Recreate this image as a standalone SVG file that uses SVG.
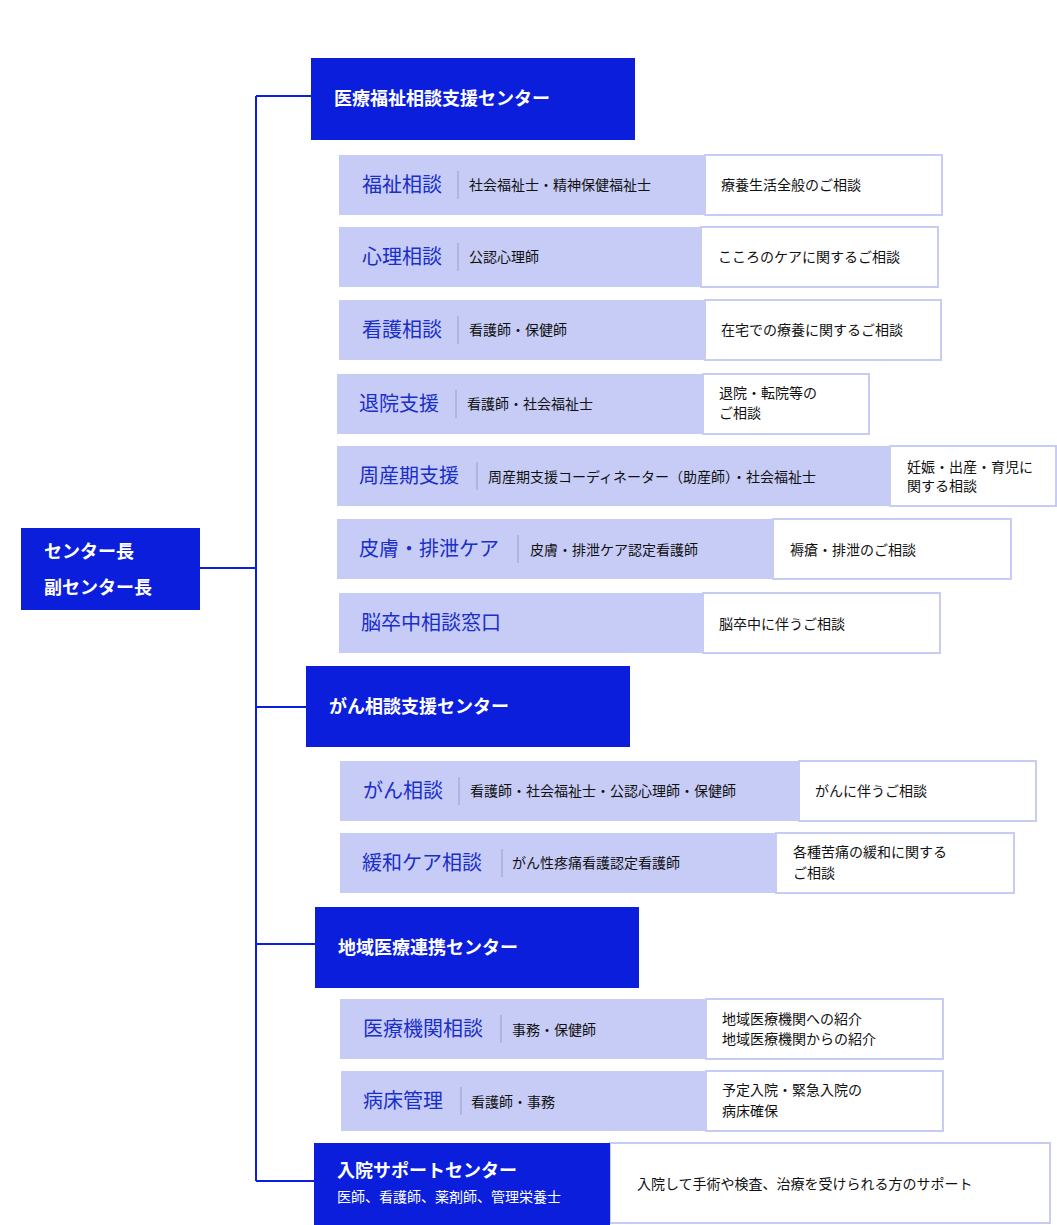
<svg xmlns="http://www.w3.org/2000/svg" width="1057" height="1225" viewBox="0 0 1057 1225">
<style>
text{font-family:"Noto Sans CJK JP","Liberation Sans",sans-serif}
.hd{fill:#0a1edc}
.ht{fill:#fff;font-size:18px;font-weight:bold}
.lt{fill:#c6ccf6}
.wb{fill:#fff;stroke:#c6ccf6;stroke-width:2}
.t{fill:#1a2ec8;font-size:20px}
.s{fill:#111;font-size:14px}
.sep{stroke:#9aa0c0;stroke-width:1}
.ln{stroke:#0a1edc;stroke-width:2;fill:none}
</style>
<rect width="1057" height="1225" fill="#fff"/>
<g id="connectors">
<path class="ln" d="M200 568H256M256 96V1181M256 96H311M256 707H306M256 944H315M256 1181H314"/>
</g>
<g id="chief"><rect class="hd" x="21" y="528" width="179" height="82"/><text class="ht" x="44" y="558">センター長</text><text class="ht" x="44" y="594">副センター長</text></g>
<g id="h1"><rect class="hd" x="311" y="58" width="324" height="82"/><text class="ht" x="334" y="105">医療福祉相談支援センター</text></g>
<g id="r1"><rect class="wb" x="705" y="155" width="237" height="60"/><rect class="lt" x="339" y="155" width="366" height="60"/><text class="t" x="362" y="192">福祉相談</text><line class="sep" x1="458" y1="171" x2="458" y2="199"/><text class="s" x="469" y="190">社会福祉士・精神保健福祉士</text><text class="s" x="721" y="190">療養生活全般のご相談</text></g>
<g id="r2"><rect class="wb" x="701" y="227" width="237" height="60"/><rect class="lt" x="339" y="227" width="362" height="60"/><text class="t" x="362" y="264">心理相談</text><line class="sep" x1="458" y1="243" x2="458" y2="271"/><text class="s" x="469" y="262">公認心理師</text><text class="s" x="718" y="262">こころのケアに関するご相談</text></g>
<g id="r3"><rect class="wb" x="705" y="300" width="236" height="60"/><rect class="lt" x="339" y="300" width="366" height="60"/><text class="t" x="362" y="337">看護相談</text><line class="sep" x1="458" y1="316" x2="458" y2="344"/><text class="s" x="469" y="335">看護師・保健師</text><text class="s" x="721" y="335">在宅での療養に関するご相談</text></g>
<g id="r4"><rect class="wb" x="703" y="374" width="166" height="60"/><rect class="lt" x="337" y="374" width="366" height="60"/><text class="t" x="359" y="411">退院支援</text><line class="sep" x1="456" y1="390" x2="456" y2="418"/><text class="s" x="467" y="409">看護師・社会福祉士</text><text class="s" x="719" y="398">退院・転院等の</text><text class="s" x="719" y="418">ご相談</text></g>
<g id="r5"><rect class="wb" x="890" y="446" width="166" height="60"/><rect class="lt" x="337" y="446" width="553" height="60"/><text class="t" x="359" y="483">周産期支援</text><line class="sep" x1="477" y1="462" x2="477" y2="490"/><text class="s" x="488" y="482">周産期支援コーディネーター（助産師）・社会福祉士</text><text class="s" x="907" y="472">妊娠・出産・育児に</text><text class="s" x="907" y="491">関する相談</text></g>
<g id="r6"><rect class="wb" x="773" y="519" width="238" height="60"/><rect class="lt" x="337" y="519" width="436" height="60"/><text class="t" x="359" y="556">皮膚・排泄ケア</text><line class="sep" x1="518" y1="535" x2="518" y2="563"/><text class="s" x="530" y="555">皮膚・排泄ケア認定看護師</text><text class="s" x="790" y="555">褥瘡・排泄のご相談</text></g>
<g id="r7"><rect class="wb" x="703" y="593" width="237" height="60"/><rect class="lt" x="339" y="593" width="364" height="60"/><text class="t" x="361" y="630">脳卒中相談窓口</text><text class="s" x="719" y="629">脳卒中に伴うご相談</text></g>
<g id="h2"><rect class="hd" x="306" y="666" width="324" height="81"/><text class="ht" x="329" y="713">がん相談支援センター</text></g>
<g id="r8"><rect class="wb" x="799" y="761" width="237" height="60"/><rect class="lt" x="340" y="761" width="459" height="60"/><text class="t" x="363" y="798">がん相談</text><line class="sep" x1="459" y1="777" x2="459" y2="805"/><text class="s" x="470" y="796">看護師・社会福祉士・公認心理師・保健師</text><text class="s" x="815" y="796">がんに伴うご相談</text></g>
<g id="r9"><rect class="wb" x="776" y="833" width="238" height="60"/><rect class="lt" x="340" y="833" width="436" height="60"/><text class="t" x="362" y="870">緩和ケア相談</text><line class="sep" x1="502" y1="849" x2="502" y2="877"/><text class="s" x="512" y="868">がん性疼痛看護認定看護師</text><text class="s" x="793" y="857">各種苦痛の緩和に関する</text><text class="s" x="793" y="878">ご相談</text></g>
<g id="h3"><rect class="hd" x="315" y="907" width="324" height="81"/><text class="ht" x="338" y="954">地域医療連携センター</text></g>
<g id="r10"><rect class="wb" x="706" y="999" width="237" height="60"/><rect class="lt" x="340" y="999" width="366" height="60"/><text class="t" x="363" y="1036">医療機関相談</text><line class="sep" x1="501" y1="1015" x2="501" y2="1043"/><text class="s" x="512" y="1035">事務・保健師</text><text class="s" x="722" y="1024">地域医療機関への紹介</text><text class="s" x="722" y="1044">地域医療機関からの紹介</text></g>
<g id="r11"><rect class="wb" x="706" y="1071" width="237" height="60"/><rect class="lt" x="341" y="1071" width="365" height="60"/><text class="t" x="363" y="1108">病床管理</text><line class="sep" x1="461" y1="1087" x2="461" y2="1115"/><text class="s" x="471" y="1107">看護師・事務</text><text class="s" x="722" y="1095">予定入院・緊急入院の</text><text class="s" x="722" y="1116">病床確保</text></g>
<g id="h4"><rect class="wb" x="610" y="1143" width="440" height="80"/><rect class="hd" x="314" y="1143" width="296" height="82"/><text class="ht" x="337" y="1177">入院サポートセンター</text><text fill="#fff" font-size="14" x="337" y="1202">医師、看護師、薬剤師、管理栄養士</text><text class="s" x="637" y="1189">入院して手術や検査、治療を受けられる方のサポート</text></g>
</svg>
